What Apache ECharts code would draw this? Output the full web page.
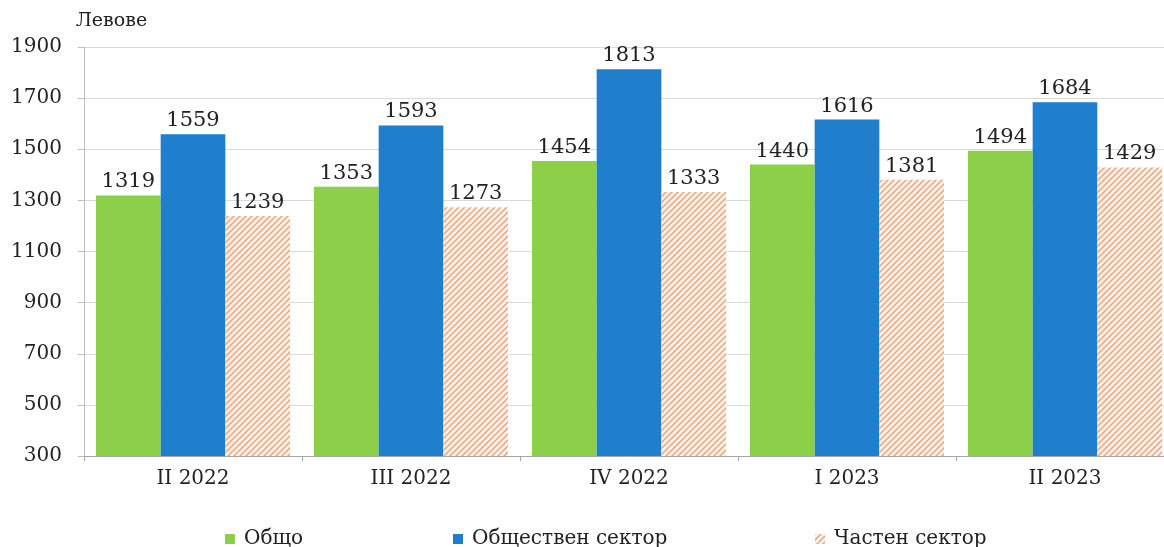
<!DOCTYPE html>
<html><head><meta charset="utf-8">
<script src="https://cdn.jsdelivr.net/npm/echarts@6/dist/echarts.min.js"></script>
<style>html,body{margin:0;padding:0;background:#fff}#c{width:1164px;height:547px}</style>
</head><body><div id="c"></div>
<script>
const categories = ['II 2022','III 2022','IV 2022','I 2023','II 2023'];
const total = [1319,1353,1454,1440,1494];
const publicSector = [1559,1593,1813,1616,1684];
const privateSector = [1239,1273,1333,1381,1429];
const seriesNames = ['Общо','Обществен сектор','Частен сектор'];
const yTicks = {min:300, max:1900, interval:200};

function hatch(){
  const c=document.createElement('canvas'); c.width=6; c.height=6;
  const g=c.getContext('2d');
  g.fillStyle='#fdf0e6'; g.fillRect(0,0,6,6);
  g.strokeStyle='#e8a27c'; g.lineWidth=1.4;
  g.beginPath();
  g.moveTo(0,6); g.lineTo(6,0);
  g.moveTo(-3,3); g.lineTo(3,-3);
  g.moveTo(3,9); g.lineTo(9,3);
  g.stroke();
  return c;
}
const pat = {image: hatch(), repeat:'repeat'};
const font = '"DejaVu Serif",serif';
const lbl = {show:true, position:'top', distance:3, fontFamily:font, fontSize:21, color:'#222'};
const chart = echarts.init(document.getElementById('c'));
function leg(name,left,icon){
  return {data:[name], left:left, top:529, padding:0, itemWidth:10, itemHeight:10, icon:icon||'rect', selectedMode:false,
    textStyle:{fontFamily:font, fontSize:20, color:'#222', padding:[0,0,0,4]}};
}
chart.setOption({
  animation:false,
  grid:{left:84, width:1090, top:47, height:409, outerBoundsMode:'none', containLabel:false},
  legend:[leg(seriesNames[0],225),leg(seriesNames[1],453),leg(seriesNames[2],815)],
  xAxis:{type:'category', data:categories,
    axisLine:{lineStyle:{color:'#a6a6a6'}},
    axisTick:{show:true, length:5, lineStyle:{color:'#a6a6a6'}},
    axisLabel:{fontFamily:font, fontSize:20, color:'#222', margin:13}},
  yAxis:{type:'value', min:yTicks.min, max:yTicks.max, interval:yTicks.interval,
    name:'Левове', nameLocation:'end', nameGap:16, nameTextStyle:{fontFamily:font, fontSize:19, color:'#222', align:'left', padding:[0,0,0,-8]},
    axisLine:{show:true, lineStyle:{color:'#bfbfbf'}},
    axisTick:{show:true, length:6, lineStyle:{color:'#bfbfbf'}},
    splitLine:{lineStyle:{color:'#d9d9d9'}},
    axisLabel:{fontFamily:font, fontSize:20, color:'#222', margin:22, formatter:v=>String(v)}},
  series:[
    {name:seriesNames[0], type:'bar', data:total, barGap:'0%', barCategoryGap:'11%', itemStyle:{color:'#8ccf48'}, label:lbl},
    {name:seriesNames[1], type:'bar', data:publicSector, barGap:'0%', barCategoryGap:'11%', itemStyle:{color:'#1f7fcc'}, label:lbl},
    {name:seriesNames[2], type:'bar', data:privateSector, barGap:'0%', barCategoryGap:'11%', itemStyle:{color:pat}, label:lbl}
  ]
});
</script></body></html>
